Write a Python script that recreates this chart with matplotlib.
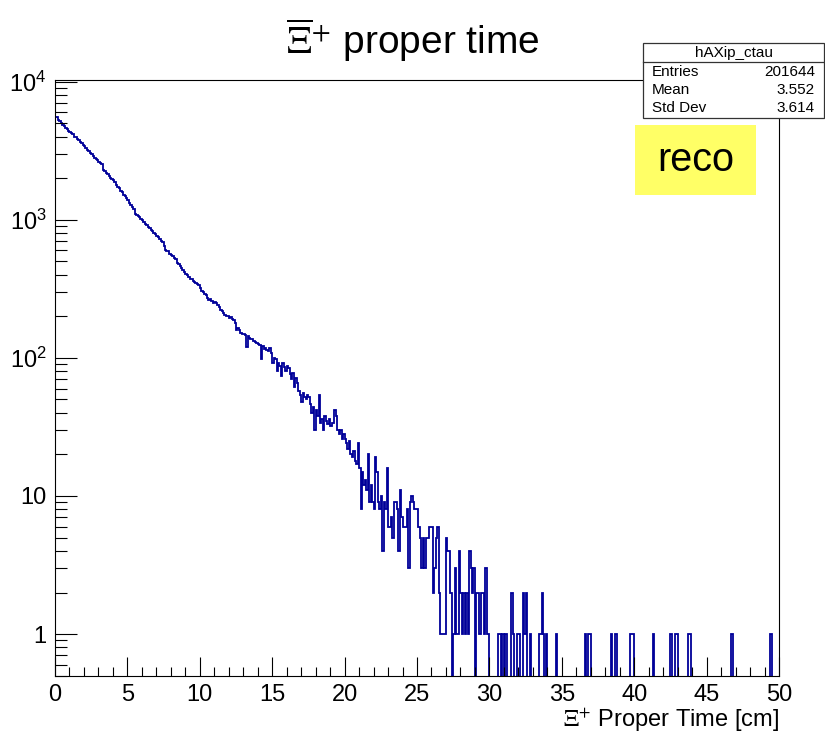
import numpy as np
import matplotlib
matplotlib.use("Agg")
import matplotlib.pyplot as plt
from matplotlib.patches import Rectangle
from matplotlib.lines import Line2D

plt.rcParams['font.family'] = ['Liberation Sans', 'DejaVu Sans']
plt.rcParams['mathtext.fontset'] = 'stix'

# ---------------- data ----------------
x_min, x_max, n_bins = 0.0, 50.0, 500

# bin contents, bins 0..299 (one row per cm, 0.1 cm bins)
counts_main = [
    5580, 5520, 5260, 5190, 5010, 4880, 4790, 4650, 4520, 4410,
    4290, 4220, 4150, 4010, 3960, 3870, 3790, 3680, 3620, 3510,
    3400, 3290, 3180, 3170, 3060, 2990, 2880, 2810, 2760, 2700,
    2640, 2600, 2520, 2290, 2250, 2190, 2130, 2080, 2020, 1990,
    1930, 1870, 1790, 1730, 1690, 1620, 1600, 1520, 1490, 1430,
    1390, 1320, 1270, 1240, 1190, 1110, 1090, 1070, 1040, 1010,
    990, 960, 940, 915, 890, 870, 845, 830, 805, 790,
    765, 745, 730, 705, 690, 650, 605, 595, 590, 570,
    555, 545, 530, 520, 490, 475, 465, 450, 430, 420,
    405, 398, 385, 372, 370, 362, 355, 350, 345, 338,
    320, 305, 300, 290, 285, 270, 262, 268, 258, 250,
    252, 248, 240, 232, 224, 218, 212, 205, 200, 201,
    196, 198, 192, 188, 180, 160, 165, 158, 152, 150,
    148, 146, 120, 144, 140, 136, 138, 132, 130, 128,
    126, 124, 98, 122, 116, 118, 114, 112, 117, 108,
    92, 100, 98, 80, 92, 88, 74, 92, 86, 80,
    88, 84, 76, 70, 78, 62, 72, 66, 58, 54,
    48, 56, 52, 50, 54, 52, 46, 40, 44, 30,
    42, 38, 54, 34, 36, 30, 38, 35, 33, 36,
    32, 34, 34, 42, 38, 30, 28, 30, 26, 28,
    26, 24, 22, 25, 20, 19, 21, 18, 17, 24,
    16, 8, 15, 12, 13, 11, 20, 9, 12, 9,
    8, 19, 15, 9, 8, 10, 4, 9, 8, 16,
    6, 6, 7, 5, 9, 9, 8, 4, 11, 7,
    6, 6, 6, 8, 3, 9, 10, 9, 8, 8,
    8, 6, 5, 3, 5, 3, 5, 5, 6, 6,
    6, 2, 3, 5, 6, 2, 1, 1, 1, 1,
    5, 4, 4, 2, 0, 1, 3, 1, 1, 4,
    2, 1, 2, 1, 2, 1, 4, 3, 2, 3,
    0, 2, 2, 1, 2, 2, 1, 3, 1, 1,
]

# sparse tail: bin index -> content (bins 300..499, all others empty)
tail_bins = [306, 307, 309, 311, 315, 316, 319, 320, 323, 324, 325, 328,
             334, 335, 336, 337, 339, 346, 366, 368, 369, 384, 387,
             397, 398, 399, 413, 425, 428, 429, 437, 438, 467, 494]
tail_counts = [1, 1, 1, 1, 2, 1, 1, 1, 2, 1, 2, 1,
               1, 1, 2, 1, 1, 1, 1, 1, 1, 1, 1,
               1, 1, 1, 1, 1, 1, 1, 1, 1, 1, 1]

y_tick_values = [1, 10, 100, 1000, 10000]
y_tick_labels = ['1', '10', r'$\mathdefault{10^{2}}$', r'$\mathdefault{10^{3}}$',
                 r'$\mathdefault{10^{4}}$']

hist_name = 'hAXip_ctau'
stat_names = ['Entries', 'Mean', 'Std Dev']
stat_values = ['201644', '3.552', '3.614']

# ---------------- figure ----------------
W, H = 825, 733
fig = plt.figure(figsize=(W / 100, H / 100), dpi=100)

def fx(px):
    return px / W

def fy(py):
    return 1 - py / H

ax_l, ax_r, ax_t, ax_b = 55, 779, 80, 676
ax = fig.add_axes([fx(ax_l), fy(ax_b), fx(ax_r) - fx(ax_l), fy(ax_t) - fy(ax_b)])

counts = np.zeros(n_bins)
counts[:len(counts_main)] = counts_main
counts[np.array(tail_bins)] = tail_counts
edges = np.linspace(x_min, x_max, n_bins + 1)
draw_vals = np.where(counts > 0, counts, 1e-3)

ax.stairs(draw_vals, edges, baseline=None, color='#000099', linewidth=1.3)

ax.set_yscale('log')
ax.set_xlim(x_min, x_max)
ax.set_ylim(0.497, 10290)

ax.set_xticks(np.arange(0, 51, 5))
ax.set_xticks(np.arange(0, 51, 1), minor=True)
ax.set_xticklabels([str(v) for v in range(0, 51, 5)])
ax.set_yticks(y_tick_values)
ax.set_yticklabels(y_tick_labels)
minor_y = [m * 10 ** e for e in range(-1, 4) for m in range(2, 10)]
minor_y = [v for v in minor_y if 0.5 <= v <= 10000]
ax.set_yticks(minor_y, minor=True)
ax.set_yticklabels([], minor=True)

ax.tick_params(axis='x', which='major', direction='in', length=13.5, width=0.8,
               labelsize=17, pad=6, top=False)
ax.tick_params(axis='x', which='minor', direction='in', length=6.7, width=0.8, top=False)
ax.tick_params(axis='y', which='major', direction='in', length=15.8, width=0.8,
               labelsize=17, pad=6, right=False)
ax.tick_params(axis='y', which='minor', direction='in', length=8.4, width=0.8, right=False)
for s in ax.spines.values():
    s.set_linewidth(0.8)
    s.set_color('black')

ax.set_xlabel(r'$\Xi^{+}$ Proper Time [cm]', fontsize=17, loc='right', labelpad=0)

# title
fig.text(0.5, fy(40), r'$\overline{\Xi}^{+}$ proper time', ha='center', va='center',
         fontsize=28)

# stats box
bx0, bx1, by0, by1, bmid = 643, 824, 43, 118, 62
fig.add_artist(Rectangle((fx(bx0), fy(by1)), fx(bx1) - fx(bx0), fy(by0) - fy(by1),
                         transform=fig.transFigure, facecolor='white',
                         edgecolor='#333333', linewidth=0.9, zorder=5))
fig.add_artist(Line2D([fx(bx0), fx(bx1)], [fy(bmid), fy(bmid)], transform=fig.transFigure,
                      color='#333333', linewidth=0.9, zorder=6))
fig.text(fx((bx0 + bx1) / 2), fy(52.5), hist_name, ha='center', va='center',
         fontsize=11, zorder=7)
for i, (n, v) in enumerate(zip(stat_names, stat_values)):
    yy = fy(72 + 18 * i)
    fig.text(fx(652), yy, n, ha='left', va='center', fontsize=11, zorder=7)
    fig.text(fx(815), yy, v, ha='right', va='center', fontsize=11, zorder=7)

# reco label
rx0, rx1, ry0, ry1 = 635, 756, 125, 195
fig.add_artist(Rectangle((fx(rx0), fy(ry1)), fx(rx1) - fx(rx0), fy(ry0) - fy(ry1),
                         transform=fig.transFigure, facecolor='#FFFF66',
                         edgecolor='none', zorder=5))
fig.text(fx((rx0 + rx1) / 2), fy(160), 'reco', ha='center', va='center',
         fontsize=28.5, zorder=7)

fig.savefig('out.png', dpi=100)
